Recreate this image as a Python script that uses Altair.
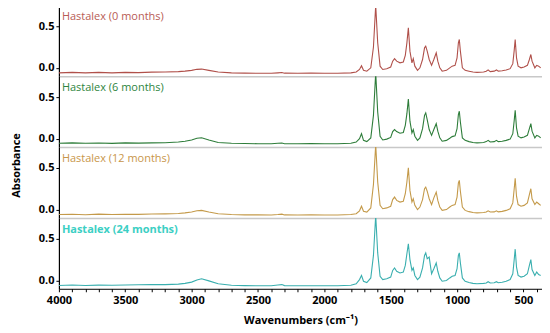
import altair as alt
import pandas as pd

wavenumbers = [
    4000, 3900, 3800, 3700, 3600, 3500, 3400, 3300, 3200, 3100,
    3050, 3000, 2960, 2925, 2870, 2800, 2700, 2600, 2500, 2400,
    2350, 2320, 2300, 2200, 2100, 2000, 1900, 1800, 1760, 1735,
    1720, 1705, 1680, 1650, 1630, 1613, 1598, 1580, 1560, 1530,
    1500, 1485, 1471, 1455, 1430, 1405, 1390, 1378, 1367, 1355,
    1340, 1330, 1318, 1298, 1280, 1260, 1245, 1236, 1225, 1210,
    1192, 1175, 1157, 1145, 1130, 1112, 1080, 1055, 1037, 1015,
    1000, 990, 983, 975, 960, 939, 910, 880, 850, 800,
    780, 766, 750, 720, 703, 690, 660, 630, 600, 580,
    570, 562, 552, 540, 518, 495, 470, 455, 444, 435,
    414, 400, 385, 370,
]

abs_0_months = [
    -0.060, -0.055, -0.060, -0.055, -0.060, -0.055, -0.057, -0.052, -0.050, -0.046,
    -0.040, -0.030, -0.018, -0.015, -0.030, -0.050, -0.060, -0.064, -0.065, -0.065,
    -0.060, -0.056, -0.064, -0.065, -0.064, -0.065, -0.065, -0.060, -0.050, -0.020,
    0.025, -0.030, -0.040, 0.000, 0.250, 0.750, 0.300, 0.020, -0.020, -0.010,
    0.010, 0.080, 0.110, 0.080, 0.060, 0.070, 0.150, 0.300, 0.480, 0.200,
    0.060, 0.110, 0.020, -0.030, 0.000, 0.100, 0.240, 0.260, 0.200, 0.100,
    0.030, 0.100, 0.180, 0.080, 0.000, -0.040, -0.030, 0.000, 0.020, 0.030,
    0.120, 0.300, 0.340, 0.200, 0.000, -0.030, -0.040, -0.050, -0.055, -0.050,
    -0.040, -0.025, -0.045, -0.040, -0.025, -0.040, -0.035, -0.025, -0.010, 0.050,
    0.200, 0.340, 0.120, 0.020, 0.000, 0.010, 0.030, 0.100, 0.160, 0.080,
    0.000, 0.030, 0.020, 0.000,
]

abs_6_months = [
    -0.055, -0.050, -0.055, -0.052, -0.056, -0.050, -0.053, -0.050, -0.048, -0.040,
    -0.030, -0.015, 0.005, 0.012, -0.015, -0.045, -0.055, -0.058, -0.060, -0.060,
    -0.055, -0.052, -0.060, -0.060, -0.058, -0.060, -0.060, -0.055, -0.040, 0.000,
    0.060, -0.020, -0.035, 0.010, 0.280, 0.790, 0.320, 0.030, -0.015, -0.005,
    0.015, 0.085, 0.110, 0.085, 0.065, 0.075, 0.160, 0.300, 0.475, 0.210,
    0.070, 0.110, 0.030, -0.020, 0.010, 0.120, 0.280, 0.310, 0.230, 0.110,
    0.040, 0.110, 0.180, 0.090, 0.010, -0.030, -0.020, 0.005, 0.025, 0.035,
    0.120, 0.290, 0.330, 0.200, 0.010, -0.020, -0.035, -0.045, -0.050, -0.045,
    -0.035, -0.020, -0.040, -0.035, -0.020, -0.035, -0.030, -0.020, -0.005, 0.060,
    0.210, 0.340, 0.130, 0.030, 0.010, 0.020, 0.040, 0.120, 0.180, 0.090,
    0.010, 0.040, 0.030, 0.010,
]

abs_12_months = [
    -0.060, -0.056, -0.062, -0.055, -0.060, -0.056, -0.058, -0.054, -0.052, -0.048,
    -0.040, -0.030, -0.015, -0.010, -0.030, -0.050, -0.060, -0.064, -0.064, -0.066,
    -0.060, -0.055, -0.064, -0.065, -0.064, -0.066, -0.065, -0.060, -0.050, -0.015,
    0.040, -0.020, -0.030, 0.020, 0.300, 0.780, 0.330, 0.050, 0.010, 0.020,
    0.040, 0.120, 0.150, 0.110, 0.090, 0.100, 0.190, 0.330, 0.500, 0.230,
    0.090, 0.130, 0.050, 0.000, 0.030, 0.120, 0.250, 0.270, 0.220, 0.130,
    0.060, 0.140, 0.210, 0.110, 0.030, -0.010, 0.000, 0.030, 0.050, 0.060,
    0.150, 0.320, 0.350, 0.220, 0.030, -0.010, -0.025, -0.035, -0.040, -0.035,
    -0.030, -0.015, -0.030, -0.028, -0.015, -0.028, -0.022, -0.010, 0.010, 0.080,
    0.240, 0.375, 0.160, 0.060, 0.040, 0.050, 0.080, 0.180, 0.250, 0.130,
    0.060, 0.090, 0.070, 0.050,
]

abs_24_months = [
    -0.060, -0.055, -0.060, -0.056, -0.058, -0.055, -0.052, -0.050, -0.050, -0.044,
    -0.035, -0.020, 0.005, 0.020, -0.005, -0.040, -0.058, -0.062, -0.064, -0.064,
    -0.055, -0.050, -0.062, -0.064, -0.063, -0.064, -0.064, -0.058, -0.040, 0.010,
    0.060, -0.010, -0.025, 0.030, 0.300, 0.780, 0.330, 0.050, 0.010, 0.020,
    0.040, 0.120, 0.150, 0.110, 0.090, 0.100, 0.180, 0.320, 0.440, 0.250,
    0.120, 0.150, 0.060, 0.010, 0.040, 0.150, 0.300, 0.330, 0.260, 0.280,
    0.080, 0.140, 0.210, 0.110, 0.030, -0.010, 0.000, 0.030, 0.050, 0.060,
    0.140, 0.300, 0.330, 0.210, 0.030, -0.010, -0.025, -0.035, -0.040, -0.035,
    -0.030, -0.015, -0.030, -0.028, -0.015, -0.028, -0.022, -0.010, 0.010, 0.080,
    0.240, 0.375, 0.160, 0.060, 0.040, 0.050, 0.080, 0.180, 0.250, 0.130,
    0.060, 0.100, 0.070, 0.060,
]

series_labels = ["Hastalex (0 months)", "Hastalex (6 months)",
                 "Hastalex (12 months)", "Hastalex (24 months)"]
series_values = [abs_0_months, abs_6_months, abs_12_months, abs_24_months]
line_colors = ["#b0504a", "#2e7d3a", "#c49a4a", "#3aafaf"]
label_colors = ["#b85c55", "#2e8540", "#c8964a", "#3ccfc4"]
label_weights = ["normal", "normal", "normal", "bold"]

FONT = "Open Sans"
x_ticks = list(range(400, 4001, 100))


def panel(i, bottom):
    df = pd.DataFrame({"wn": wavenumbers, "a": series_values[i]})
    if bottom:
        xaxis = alt.Axis(values=x_ticks, format="d",
                         labelExpr="datum.value % 500 == 0 ? datum.label : ''",
                         title="Wavenumbers (cm\u207b\u00b9)", grid=False,
                         domainColor="black", tickColor="black", tickSize=3,
                         labelFont=FONT, labelFontSize=11, labelFontWeight="bold",
                         labelColor="black", labelPadding=3, labelFlush=False,
                         titleFont=FONT, titleFontSize=11, titleFontWeight="bold",
                         titleColor="black", titlePadding=9)
    else:
        xaxis = alt.Axis(labels=False, ticks=False, grid=False, title=None,
                         domainColor="#c8c8c8", domainWidth=1.5)
    line = alt.Chart(df).mark_line(color=line_colors[i], strokeWidth=1.1, clip=True).encode(
        x=alt.X("wn:Q", scale=alt.Scale(domain=[360, 4000], reverse=True, nice=False, zero=False),
                axis=xaxis),
        y=alt.Y("a:Q", scale=alt.Scale(domain=[-0.1, 0.75], nice=False, zero=False),
                axis=alt.Axis(values=[0, 0.5], format=".1f", title=None, grid=False,
                              domainColor="black", domainWidth=1.2, tickColor="black",
                              tickSize=3, labelFont=FONT, labelFontSize=11,
                              labelFontWeight="bold", labelColor="black", labelPadding=2)),
    )
    txt = alt.Chart(pd.DataFrame({"label": [series_labels[i]]})).mark_text(
        align="left", baseline="middle", font=FONT, fontSize=11,
        fontWeight=label_weights[i], color=label_colors[i],
    ).encode(x=alt.value(3), y=alt.value(12), text="label:N")
    return alt.layer(line, txt).properties(width=484, height=71)


panels = [panel(i, i == 3) for i in range(4)]
chart = alt.vconcat(*panels, spacing=0).properties(
    padding={"left": 3, "top": -3, "right": 0, "bottom": 0},
    title=alt.TitleParams("Absorbance", orient="left", anchor="middle", font=FONT,
                          fontSize=11, fontWeight="bold", color="black", offset=16),
).configure_view(stroke=None)

chart.save("out.html", embed_options={"renderer": "svg", "actions": False})
